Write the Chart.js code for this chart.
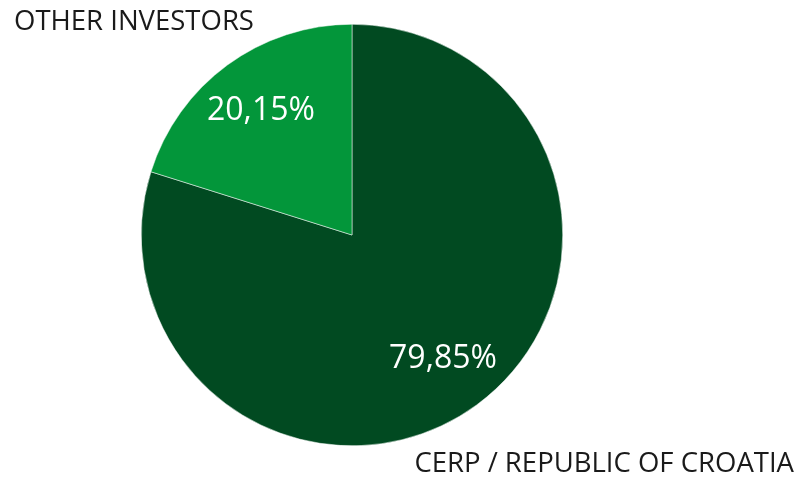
<!DOCTYPE html>
<html lang="en">
<head>
    <meta charset="UTF-8">
    <title>Ownership structure</title>
    <script src="https://cdn.jsdelivr.net/npm/chart.js"></script>
    <style>
        html, body { margin: 0; padding: 0; background: #fff; }
    </style>
</head>
<body>
    <canvas id="graficoPizza" width="798" height="477"></canvas>
</body>
</html>
<script>
    const categorias = ['CERP / REPUBLIC OF CROATIA', 'OTHER INVESTORS']
    const valores = [79.85, 20.15]
    const rotulos = ['79,85%', '20,15%']
    const cores = ['#014a21', '#03963a']

    const fonte = '"Open Sans", "Noto Sans", sans-serif'

    // desenha as porcentagens dentro das fatias e os nomes fora
    const rotulosPlugin = {
        id: 'rotulos',
        afterDatasetsDraw(chart) {
            const ctx = chart.ctx
            const arcos = chart.getDatasetMeta(0).data
            ctx.save()
            ctx.textBaseline = 'middle'
            arcos.forEach((arco, i) => {
                const meio = (arco.startAngle + arco.endAngle) / 2
                const r = arco.outerRadius * 0.73
                ctx.fillStyle = '#ffffff'
                ctx.font = '32px ' + fonte
                ctx.textAlign = 'center'
                ctx.fillText(rotulos[i], arco.x + Math.cos(meio) * r, arco.y + Math.sin(meio) * r)
            })
            ctx.fillStyle = '#1a1a1a'
            ctx.font = '27.5px ' + fonte
            ctx.textAlign = 'right'
            ctx.fillText(categorias[0], 794, 464)
            ctx.textAlign = 'left'
            ctx.fillText(categorias[1], 14, 22)
            ctx.restore()
        }
    }

    new Chart(
        graficoPizza,
        {
            type: 'pie',
            data: {
                labels: categorias,
                datasets: [{
                    data: valores,
                    backgroundColor: cores,
                    borderColor: '#ffffff',
                    borderWidth: 0.5
                }]
            },
            options: {
                responsive: false,
                animation: false,
                layout: { padding: { left: 141, right: 235, top: 24, bottom: 31 } },
                plugins: {
                    legend: { display: false },
                    tooltip: { enabled: false }
                }
            },
            plugins: [rotulosPlugin]
        }
    )
</script>
